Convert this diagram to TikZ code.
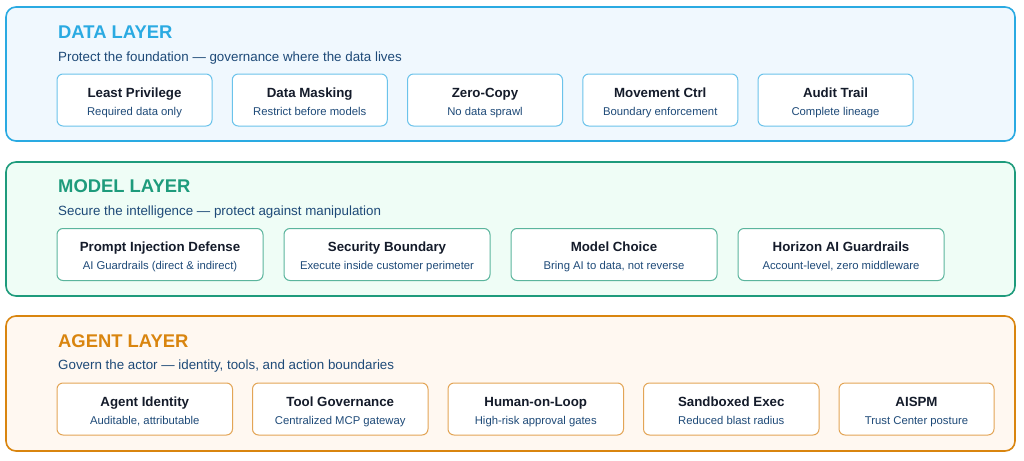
\documentclass[tikz,border=0pt]{standalone}
\usepackage{fontspec}
\setmainfont{Liberation Sans}
\usepackage{tikz}
\usetikzlibrary{positioning}
\definecolor{dataln}{HTML}{2AAAE2}
\definecolor{datafl}{HTML}{F0F8FE}
\definecolor{datacd}{HTML}{6BC3EB}
\definecolor{modelln}{HTML}{1E9B7C}
\definecolor{modelfl}{HTML}{EFFDF6}
\definecolor{modelcd}{HTML}{5BB59D}
\definecolor{agentln}{HTML}{D9850F}
\definecolor{agentfl}{HTML}{FFF8F1}
\definecolor{agentcd}{HTML}{E3A556}
\definecolor{subtext}{HTML}{1E4A78}
\definecolor{cardtext}{HTML}{141B2A}
\tikzset{
    % Define style for the layer frames
    layer box/.style={
           rectangle,
           rounded corners=10pt,
           line width=1.6pt,
           anchor=north west,
           minimum width=1009pt,
           minimum height=134pt,
           outer sep=0pt},
    % Define style for the cards
    card/.style={
           rectangle,
           rounded corners=6pt,
           fill=white,
           line width=1pt,
           minimum height=52pt,
           inner sep=0pt,
           outer sep=0pt},
    data card/.style={card,draw=datacd,minimum width=155pt},
    model card/.style={card,draw=modelcd,minimum width=206pt},
    agent card/.style={card,draw=agentcd,minimum width=175.5pt},
    % Define text styles
    layer title/.style={anchor=base west,inner sep=0pt,font=\bfseries\fontsize{18.4}{20}\selectfont},
    layer sub/.style={anchor=base west,inner sep=0pt,text=subtext,font=\fontsize{13.35}{15}\selectfont},
    card title/.style={anchor=base,inner sep=0pt,text=cardtext,font=\bfseries\fontsize{13.3}{15}\selectfont},
    card sub/.style={anchor=base,inner sep=0pt,text=subtext,font=\fontsize{11.3}{13}\selectfont}
}
\begin{document}
\begin{tikzpicture}[x=1pt,y=-1pt]
  \useasboundingbox[fill=white] (0,0) rectangle (1024,460);
  % data layer
  \node[layer box,draw=dataln,fill=datafl] (data) at (6,7) {};
  \node[layer title,text=dataln] (datat) at (58,38.5) {DATA LAYER};
  \node[layer sub] (datas) at (58,61) {Protect the foundation — governance where the data lives};
  \node[data card] (d1) at (134.5,100) {};
  \foreach \n/\p in {d2/d1,d3/d2,d4/d3,d5/d4}
    \node[data card,right=20.25pt of \p] (\n) {};
  \foreach \n/\t/\s in {d1/Least Privilege/Required data only,
                        d2/Data Masking/Restrict before models,
                        d3/Zero-Copy/No data sprawl,
                        d4/Movement Ctrl/Boundary enforcement,
                        d5/Audit Trail/Complete lineage} {
    \node[card title] at ([yshift=3pt]\n.center) {\t};
    \node[card sub] at ([yshift=-15.3pt]\n.center) {\s};
  }
  % model layer
  \node[layer box,draw=modelln,fill=modelfl] (model) at (6,162) {};
  \node[layer title,text=modelln] (modelt) at (58,192.6) {MODEL LAYER};
  \node[layer sub] (models) at (58,215.3) {Secure the intelligence — protect against manipulation};
  \node[model card] (m1) at (160,254.5) {};
  \foreach \n/\p in {m2/m1,m3/m2,m4/m3}
    \node[model card,right=21pt of \p] (\n) {};
  \foreach \n/\t/\s in {m1/Prompt Injection Defense/AI Guardrails (direct \& indirect),
                        m2/Security Boundary/Execute inside customer perimeter,
                        m3/Model Choice/{Bring AI to data, not reverse},
                        m4/Horizon AI Guardrails/{Account-level, zero middleware}} {
    \node[card title] at ([yshift=3pt]\n.center) {\t};
    \node[card sub] at ([yshift=-15.3pt]\n.center) {\s};
  }
  % agent layer
  \node[layer box,draw=agentln,fill=agentfl,minimum height=135pt] (agent) at (6,316) {};
  \node[layer title,text=agentln] (agentt) at (58,347) {AGENT LAYER};
  \node[layer sub] (agents) at (58,369.3) {Govern the actor — identity, tools, and action boundaries};
  \node[agent card] (a1) at (144.75,409) {};
  \foreach \n/\p in {a2/a1,a3/a2,a4/a3}
    \node[agent card,right=20pt of \p] (\n) {};
  \node[agent card,minimum width=155pt,right=20pt of a4] (a5) {};
  \foreach \n/\t/\s in {a1/Agent Identity/{Auditable, attributable},
                        a2/Tool Governance/Centralized MCP gateway,
                        a3/Human-on-Loop/High-risk approval gates,
                        a4/Sandboxed Exec/Reduced blast radius,
                        a5/AISPM/Trust Center posture} {
    \node[card title] at ([yshift=3pt]\n.center) {\t};
    \node[card sub] at ([yshift=-15.3pt]\n.center) {\s};
  }
\end{tikzpicture}
\end{document}
